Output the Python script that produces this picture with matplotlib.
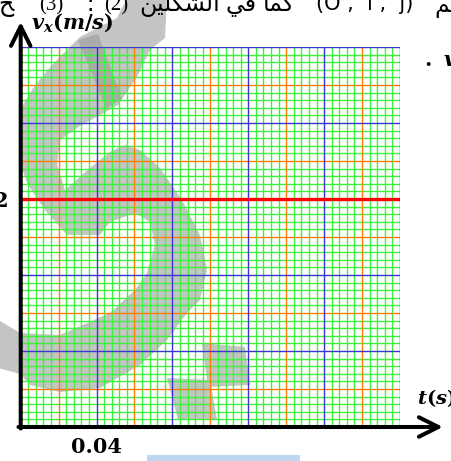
import matplotlib
matplotlib.use('Agg')
import matplotlib.pyplot as plt
import numpy as np
from matplotlib.patches import Polygon, Rectangle

plt.rcParams['mathtext.fontset'] = 'custom'
plt.rcParams['mathtext.rm'] = 'DejaVu Serif:bold'
plt.rcParams['mathtext.it'] = 'DejaVu Serif:italic:bold'
plt.rcParams['mathtext.bf'] = 'DejaVu Serif:bold'

# data
t = [0.0, 0.2]          # s
vx = [2, 2]             # m/s
t_ticks = [0.04]
t_labels = ['0.04']
v_ticks = [2]
v_labels = ['2']
t_max = 0.2
v_max = 10 / 3

# graph paper: 50 small squares each way, orange every 5, blue every 10
n_small = 50

# header line pieces (visual order, arabic presentation forms) and their centres in px
header_parts = ['\uFEA2', '(3)', '\u061B', '(2)',
                '\uFEE6\uFEF4\uFEE0\uFEDC\uFEB8\uFEDF\uFE8D',
                '\uFEF2\uFED3', '\uFE8E\uFEE4\uFEDB',
                '(O ,  i ,  j)', '\uFEE2']
header_x = [6, 51, 90, 116, 180, 241, 279, 365, 442]
header_arabic = [True, False, True, False, True, True, True, False, True]

W, H = 451, 461
fig = plt.figure(figsize=(W / 100, H / 100), dpi=100)

# ---- background watermark, pixel coordinates
bg = fig.add_axes([0, 0, 1, 1], zorder=0)
bg.set_xlim(0, W)
bg.set_ylim(H, 0)
bg.axis('off')
gray = '#c4c4c4'

mark = [(127, -2), (117, 18), (80, 37), (55, 62), (35, 85), (20, 110), (19, 160),
        (28, 185), (45, 210), (67, 235), (100, 235),
        (110, 222), (135, 213), (150, 222), (155, 245), (147, 273), (135, 290),
        (110, 313), (60, 335), (20, 333), (0, 321), (-5, 321),
        (-5, 367), (20, 374), (30, 385), (60, 392), (100, 388), (140, 365),
        (167, 340), (187, 313), (200, 300), (207, 270), (200, 235), (182, 200),
        (160, 168), (140, 150), (125, 145), (110, 152),
        (90, 168), (65, 190), (57, 165), (60, 140), (80, 126), (118, 105),
        (137, 77), (150, 50), (165, 38), (167, -2)]
bg.add_patch(Polygon(mark, closed=True, color=gray, lw=0))
bg.add_patch(Polygon([(78, 40), (98, 34), (122, 99), (106, 108)], closed=True,
                     color='#ababab', lw=0))
bg.add_patch(Polygon([(202, 343), (245, 347), (250, 385), (208, 387)], closed=True,
                     color=gray, lw=0))
bg.add_patch(Polygon([(167, 378), (210, 380), (217, 420), (178, 420)], closed=True,
                     color=gray, lw=0))
bg.add_patch(Rectangle((147, 455), 153, 8, color='#bdd7ee', lw=0))

# ---- main graph paper
left, right, top, bottom = 20.7, 400, 47, 427
ax = fig.add_axes([left / W, (H - bottom) / H, (right - left) / W, (bottom - top) / H],
                  zorder=1)
ax.patch.set_alpha(0)
ax.set_xlim(0, t_max)
ax.set_ylim(0, v_max)
for s in ax.spines.values():
    s.set_visible(False)

green, orange, blue = '#3ff03f', '#ff8000', '#3838cc'
for i in range(n_small + 1):
    if i % 10 == 0:
        c, z = blue, 1.2
    elif i % 5 == 0:
        c, z = orange, 1.1
    else:
        c, z = green, 1.0
    ax.axvline(t_max * i / n_small, color=c, lw=1.0, zorder=z)
    ax.axhline(v_max * i / n_small, color=c, lw=1.0, zorder=z)

ax.plot(t, vx, color='#ff0000', lw=2.4, zorder=3)

ax.set_xticks(t_ticks)
ax.set_xticklabels(t_labels)
ax.set_yticks(v_ticks)
ax.set_yticklabels(v_labels)
ax.tick_params(length=0, labelsize=15)
ax.tick_params(axis='x', pad=7)
ax.tick_params(axis='y', pad=9)
for lab in ax.get_xticklabels() + ax.get_yticklabels():
    lab.set_fontfamily('DejaVu Serif')
    lab.set_fontweight('bold')

# axes with open arrow heads
arrow = dict(arrowstyle='->,head_length=1.4,head_width=0.7', lw=2.9, color='black',
             shrinkA=0, shrinkB=0, mutation_scale=10)
ax.annotate('', xy=(0, 1.066), xytext=(0, -0.004), xycoords='axes fraction',
            arrowprops=arrow, annotation_clip=False, zorder=5)
ax.annotate('', xy=(1.113, 0), xytext=(-0.006, 0), xycoords='axes fraction',
            arrowprops=arrow, annotation_clip=False, zorder=5)

# ---- texts, pixel coordinates
tx = fig.add_axes([0, 0, 1, 1], zorder=3)
tx.set_xlim(0, W)
tx.set_ylim(H, 0)
tx.axis('off')
tx.patch.set_alpha(0)

tx.text(31, 23, r'$v_x(m/s)$', fontsize=15, ha='left', va='center')
tx.text(417, 398, r'$t(s)$', fontsize=14, ha='left', va='center')
tx.text(424, 60, r'$.\ v$', fontsize=15, ha='left', va='center')
for s, x, ar in zip(header_parts, header_x, header_arabic):
    if ar:
        tx.text(x, 11, s, fontsize=17, ha='center', va='baseline',
                family=['DejaVu Sans'])
    else:
        tx.text(x, 10, s, fontsize=15, ha='center', va='baseline',
                family=['DejaVu Sans'] if 'O' in s else ['Liberation Serif'])

fig.savefig('out.png', dpi=100)
